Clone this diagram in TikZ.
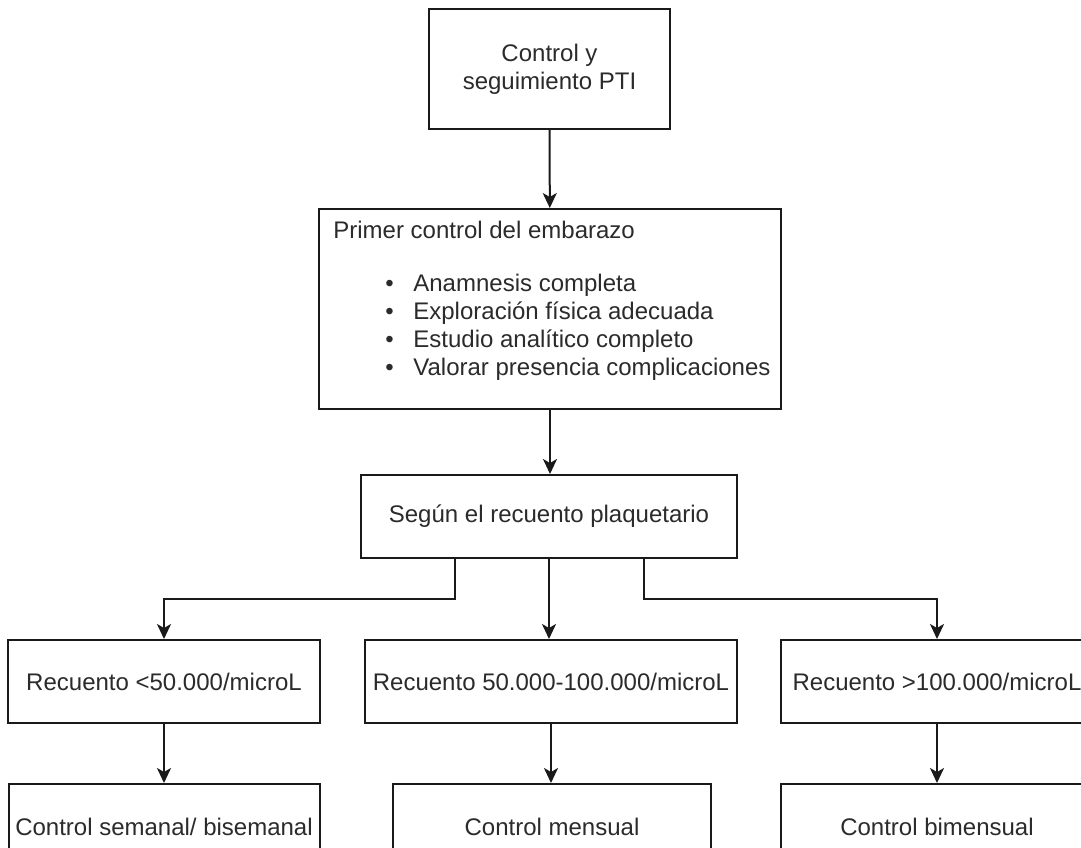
\documentclass[tikz,border=0pt]{standalone}
\usepackage{fontspec}
\setmainfont{Liberation Sans}
\usetikzlibrary{arrows.meta, positioning, calc}
\definecolor{trazo}{HTML}{1A1A1A}
\definecolor{letra}{HTML}{2B2B2B}
\tikzset{
  caja/.style={rectangle, draw=trazo, line width=1pt, fill=white, text=letra,
               font=\fontsize{12}{14}\selectfont, align=center, inner sep=2pt, minimum height=41.5pt},
  texto/.style={text=letra, font=\fontsize{12}{14}\selectfont, inner sep=0pt},
  flecha/.style={line width=1pt, draw=trazo, -{Stealth[length=7.5pt, width=7pt, inset=2pt]}}
}

\begin{document}
\begin{tikzpicture}[x=0.5pt, y=-0.5pt]
  \path [use as bounding box, fill=white] (0,0) rectangle (1081,847);
  \clip (0,0) rectangle (1081,847);
  \node (ctrl) [caja, minimum width=120.5pt, minimum height=60pt] at (549.5,69) {Control y\\ seguimiento PTI};
  \node (primer) [caja, minimum width=231pt, minimum height=100pt] at (550,309) {};
  \node (titulo) [texto, anchor=base west] at (333,238) {Primer control del embarazo};
  \node (lista) [texto, anchor=north west, align=left] at (385,271.4)
    {\strut\makebox[14pt][l]{•}Anamnesis completa\\ \makebox[14pt][l]{•}Exploración física adecuada\\
     \makebox[14pt][l]{•}Estudio analítico completo\\ \makebox[14pt][l]{•}Valorar presencia complicaciones};
  \node (segun) [caja, minimum width=188pt] at (549,516.5) {Según el recuento plaquetario};
  \node (rec1) [caja, minimum width=155.75pt] at (164,681.5) {Recuento <50.000/microL};
  \node (rec2) [caja, minimum width=186pt] at (551,681.5) {Recuento 50.000-100.000/microL};
  \node (rec3) [caja, minimum width=156.5pt] at (937,681.5) {Recuento >100.000/microL};
  \node (ctl1) [caja, minimum width=155.5pt, minimum height=43pt] at (164,827) {Control semanal/ bisemanal};
  \node (ctl2) [caja, minimum width=159pt, minimum height=43pt] at (552,827) {Control mensual};
  \node (ctl3) [caja, minimum width=156.5pt, minimum height=43pt] at (937,827) {Control bimensual};
  \coordinate (s1) at ($(segun.south west)!0.25!(segun.south east)$);
  \coordinate (s3) at ($(segun.south west)!0.75!(segun.south east)$);
  \draw [flecha] (ctrl) -- (primer);
  \draw [flecha] (primer.south) -- (primer.south |- segun.north);
  \draw [flecha] (s1) -- ++(0,-20pt) -| (rec1.north);
  \draw [flecha] (segun.south) -- (segun.south |- rec2.north);
  \draw [flecha] (s3) -- ++(0,-20pt) -| (rec3.north);
  \draw [flecha] (rec1) -- (ctl1);
  \draw [flecha] (rec2.south) -- (rec2.south |- ctl2.north);
  \draw [flecha] (rec3) -- (ctl3);
\end{tikzpicture}
\end{document}
